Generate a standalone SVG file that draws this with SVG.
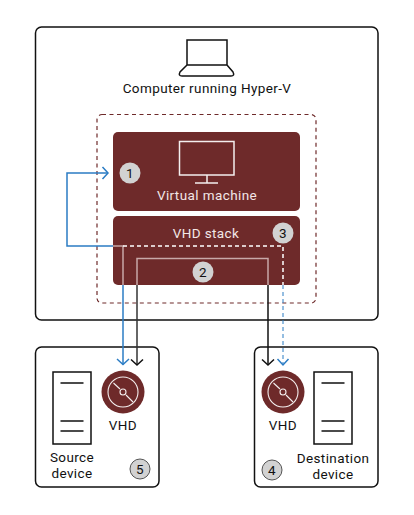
<svg xmlns="http://www.w3.org/2000/svg" width="414" height="515" viewBox="0 0 414 515">
<style>
text{font-family:Roboto,"Open Sans","Liberation Sans",sans-serif;font-size:13.5px;letter-spacing:.4px;text-anchor:middle;fill:#111}
.w{fill:#f2e6e6}
.box{fill:#fff;stroke:#111;stroke-width:1.5}
.red{fill:#6e2a2a}
.ico{fill:none;stroke:#111;stroke-width:1.5}
.icw{fill:none;stroke:#f4eeee;stroke-width:1.5}
.dsk{fill:none;stroke:#f4eeee;stroke-width:1.1}
.bdg{fill:#d2d2d2}
.bdg2{fill:#d2d2d2;stroke:#555;stroke-width:1}
.con{fill:none;stroke-width:1.5}
</style>
<defs>
<marker id="ab" markerUnits="userSpaceOnUse" markerWidth="14" markerHeight="14" refX="7" refY="7" orient="auto"><path d="M1.5 1L7 7L1.5 13" fill="none" stroke="#2b7cc4" stroke-width="1.5"/></marker>
<marker id="ak" markerUnits="userSpaceOnUse" markerWidth="14" markerHeight="14" refX="7" refY="7" orient="auto"><path d="M1.5 1L7 7L1.5 13" fill="none" stroke="#111" stroke-width="1.5"/></marker>
</defs>
<g id="computer">
<rect class="box" x="35.5" y="27" width="342.5" height="293" rx="6"/>
<path class="ico" d="M187 65V40H227V65M187 65L180 72Q178 76 182 76H231Q235 76 233 72L227 65Z"/>
<text x="207" y="93">Computer running Hyper-V</text>
</g>
<rect id="boundary" x="97" y="114.500" width="219" height="188.500" rx="5" fill="none" stroke="#6e2a2a" stroke-width="1.2" stroke-dasharray="4 3.500"/>
<g id="virtual-machine">
<rect class="red" x="113" y="132" width="187" height="79" rx="5"/>
<path class="icw" d="M179.500 141.500H234V175H179.500ZM207 175V183M195 183H218"/>
<text class="w" x="207" y="200">Virtual machine</text>
<circle class="bdg" cx="130" cy="173" r="10.500"/>
<text x="130" y="178">1</text>
</g>
<g id="vhd-stack">
<rect class="red" x="113" y="216" width="187" height="69" rx="5"/>
<text class="w" x="206" y="238">VHD stack</text>
</g>
<g id="source-device">
<rect class="box" x="35.500" y="347" width="123.500" height="140" rx="6"/>
<path class="ico" d="M53 372H91V444H53ZM60.500 383H83.500M60.500 421H83.500M60.500 431H83.500"/>
<circle class="red" cx="123" cy="392" r="21.500"/>
<circle class="dsk" cx="123" cy="392" r="15"/>
<circle class="dsk" cx="123" cy="392" r="3"/>
<path class="dsk" d="M113.500 383L120 389M126 395L133 402"/>
<text x="123" y="430">VHD</text>
<text><tspan x="72" y="462">Source</tspan><tspan x="72" y="478">device</tspan></text>
<circle class="bdg2" cx="140" cy="469" r="10"/>
<text x="140" y="474">5</text>
</g>
<g id="destination-device">
<rect class="box" x="254.500" y="347" width="123.500" height="140" rx="6"/>
<path class="ico" d="M314 372H352V444H314ZM321.500 383H344.500M321.500 421H344.500M321.500 431H344.500"/>
<circle class="red" cx="283" cy="392" r="21.500"/>
<circle class="dsk" cx="283" cy="392" r="15"/>
<circle class="dsk" cx="283" cy="392" r="3"/>
<path class="dsk" d="M273.500 383L280 389M286 395L293 402"/>
<text x="283" y="430">VHD</text>
<text><tspan x="333" y="463">Destination</tspan><tspan x="333" y="479">device</tspan></text>
<circle class="bdg2" cx="272" cy="470" r="10"/>
<text x="272" y="475">4</text>
</g>
<g id="connectors">
<path class="con" stroke="#2b7cc4" d="M113 246H67V173H108" marker-end="url(#ab)"/>
<path class="con" stroke="#c8a8a8" d="M113 246H123V285"/>
<path class="con" stroke="#2b7cc4" d="M123 285V364.500" marker-end="url(#ab)"/>
<path class="con" stroke="#fff" stroke-dasharray="4 3" d="M123 246H283V285"/>
<path fill="none" stroke="#2b7cc4" stroke-width="1" stroke-dasharray="4 3" d="M283 285V364"/>
<path fill="none" stroke="#2b7cc4" stroke-width="1.500" d="M277.500 359L283 365L288.500 359"/>
<path class="con" stroke="#c8a8a8" d="M137 285V258.500H268V285"/>
<path class="con" stroke="#333" d="M137 285V365" marker-end="url(#ak)"/>
<path class="con" stroke="#111" d="M268 285V365" marker-end="url(#ak)"/>
</g>
<g id="badge-2"><circle class="bdg" cx="203" cy="272" r="10.500"/><text x="203" y="277">2</text></g>
<g id="badge-3"><circle class="bdg" cx="283" cy="233" r="10.500"/><text x="283" y="238">3</text></g>
</svg>
